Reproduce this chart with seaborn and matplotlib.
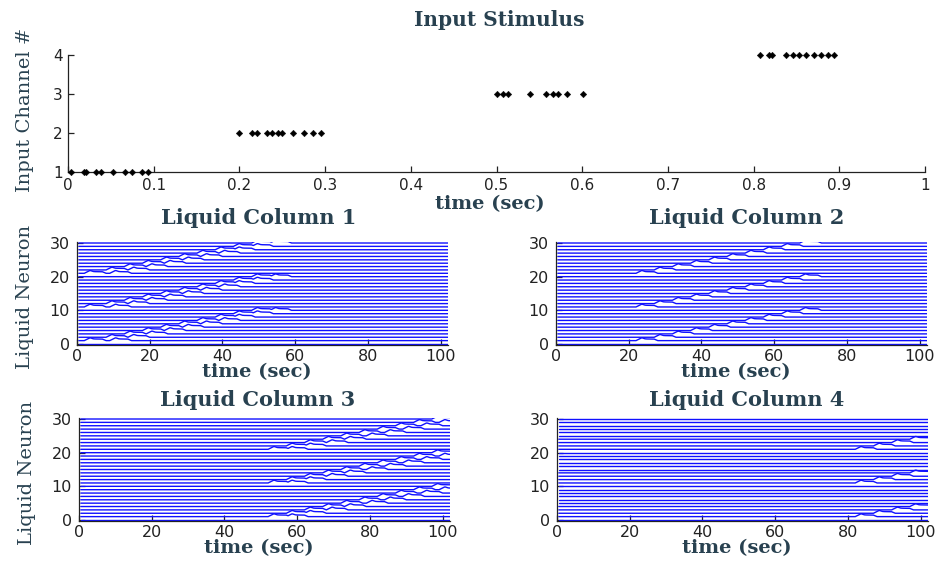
import numpy as np
import pandas as pd
import matplotlib
matplotlib.use("Agg")
import matplotlib.pyplot as plt
import seaborn as sns

# ---- input spike trains (seconds), one list per input channel ----
stim_ch1 = [0.004, 0.019, 0.021, 0.033, 0.039, 0.053, 0.067, 0.075, 0.086, 0.093]
stim_ch2 = [0.200, 0.215, 0.220, 0.232, 0.238, 0.245, 0.250, 0.262, 0.275, 0.286, 0.295]
stim_ch3 = [0.500, 0.508, 0.514, 0.539, 0.558, 0.566, 0.572, 0.582, 0.601]
stim_ch4 = [0.807, 0.818, 0.822, 0.838, 0.846, 0.853, 0.861, 0.871, 0.879, 0.887, 0.894]
stim_channels = [1, 2, 3, 4]
stim_xticks = [0, 0.1, 0.2, 0.3, 0.4, 0.5, 0.6, 0.7, 0.8, 0.9, 1]
stim_xticklabels = ["0", "0.1", "0.2", "0.3", "0.4", "0.5", "0.6", "0.7", "0.8", "0.9", "1"]

# ---- liquid columns: response onset times (sec) of neurons 1..10 in each block of ten ----
col1_first = [2, 8, 13, 18, 23, 28, 33, 38, 43, 48]
col1_second = [9, 14, 19, 24, 29, 34, 39, 43, 48, 53]
col2_first = [22, 27, 32, 37, 42, 47, 52, 57, 62, 67]
col2_second = []
col3_first = [52, 57, 62, 67, 72, 77, 82, 87, 92, 97]
col3_second = [57, 62, 68, 73, 79, 84, 89, 94, 99]
col4_first = [82, 87, 92, 97]
col4_second = []

# membrane response to one input burst: time after onset (sec) and deflection
response_dt = [0.0, 1.0, 1.6, 2.6, 5.0, 6.0]
response_dv = [0.0, 0.55, 0.85, 0.50, 0.45, 0.0]

n_neurons = 31
block_offsets = [1, 11, 21]
liquid_yticks = [0, 10, 20, 30]
liquid_xticks = [0, 20, 40, 60, 80, 100]

label_color = "#284150"
title_font = dict(family="DejaVu Serif", weight="bold", color=label_color)
ylabel_font = dict(family="DejaVu Serif", weight="normal", color=label_color)

sns.set_style("ticks")
plt.rcParams.update({
    "font.family": ["DejaVu Sans"],
    "xtick.direction": "in",
    "ytick.direction": "in",
    "xtick.major.size": 4,
    "ytick.major.size": 4,
    "xtick.major.width": 0.9,
    "ytick.major.width": 0.9,
    "axes.edgecolor": "#222222",
    "axes.linewidth": 0.9,
    "xtick.color": "#222222",
    "ytick.color": "#222222",
})

fig = plt.figure(figsize=(9.38, 5.61), dpi=100)
W, H = 938.0, 561.0


def px_axes(left, top, right, bottom):
    return fig.add_axes([left / W, 1 - bottom / H, (right - left) / W, (bottom - top) / H])


# ---------------- input stimulus raster ----------------
ax0 = px_axes(68, 55, 925, 172)
stim = pd.DataFrame({
    "time": stim_ch1 + stim_ch2 + stim_ch3 + stim_ch4,
    "channel": [1] * len(stim_ch1) + [2] * len(stim_ch2) + [3] * len(stim_ch3) + [4] * len(stim_ch4),
})
sns.scatterplot(data=stim, x="time", y="channel", marker="D", s=11, color="black",
                edgecolor="black", linewidth=0.3, ax=ax0, legend=False, clip_on=False, zorder=3)
ax0.set_xlim(0, 1)
ax0.set_ylim(1, 4)
ax0.set_xticks(stim_xticks)
ax0.set_xticklabels(stim_xticklabels)
ax0.set_yticks(stim_channels)
ax0.tick_params(labelsize=11, pad=4)
sns.despine(ax=ax0)
ax0.set_xlabel("time (sec)", fontsize=14, **title_font)
ax0.xaxis.set_label_coords(0.492, -0.27)
ax0.xaxis.label.set_va("center")
ax0.set_ylabel("Input Channel #", fontsize=14, **ylabel_font)
ax0.yaxis.set_label_coords(-0.050, 0.53)
ax0.yaxis.label.set_va("center")
ax0.text(0.503, 1.30, "Input Stimulus", transform=ax0.transAxes, ha="center", va="center",
         fontsize=14.5, **title_font)

# ---------------- liquid columns ----------------
t_max = 102.0
t_grid = np.arange(0.5, t_max + 1e-9, 0.25)


def liquid_traces(first, second):
    rows = []
    onsets = {}
    for base in block_offsets:
        for j, t0 in enumerate(first):
            onsets.setdefault(base + j, []).append(t0)
        for j, t0 in enumerate(second):
            onsets.setdefault(base + j, []).append(t0)
    for n in range(n_neurons):
        dv = np.zeros_like(t_grid)
        for t0 in onsets.get(n, []):
            dv = np.maximum(dv, np.interp(t_grid - t0, response_dt, response_dv, left=0.0, right=0.0))
        rows.append(pd.DataFrame({"time": t_grid, "potential": n + dv, "neuron": n}))
    return pd.concat(rows, ignore_index=True)


columns = [
    ("Liquid Column 1", col1_first, col1_second, (77, 242, 448, 345), 0.490, 1.233, True),
    ("Liquid Column 2", col2_first, col2_second, (556, 242, 927, 345), 0.515, 1.233, False),
    ("Liquid Column 3", col3_first, col3_second, (79, 418, 450, 521), 0.482, 1.175, True),
    ("Liquid Column 4", col4_first, col4_second, (557, 418, 928, 521), 0.511, 1.175, False),
]

for title, first, second, box, tx, ty, left_col in columns:
    ax = px_axes(*box)
    df = liquid_traces(first, second)
    sns.lineplot(data=df, x="time", y="potential", units="neuron", estimator=None,
                 color="#1010ff", linewidth=1.0, sort=False, ax=ax, legend=False)
    ax.set_xlim(0, t_max)
    ax.set_ylim(-0.3, 30.3)
    ax.set_xticks(liquid_xticks)
    ax.set_yticks(liquid_yticks)
    ax.tick_params(labelsize=11.5, pad=3)
    ax.tick_params(axis="y", pad=5)
    sns.despine(ax=ax)
    ax.set_xlabel("time (sec)", fontsize=14, **title_font)
    ax.xaxis.set_label_coords(0.484, -0.26)
    ax.xaxis.label.set_va("center")
    if left_col:
        ax.set_ylabel("Liquid Neuron", fontsize=14, **ylabel_font)
        ax.yaxis.set_label_coords(-0.141, 0.466)
        ax.yaxis.label.set_va("center")
    else:
        ax.set_ylabel("")
    ax.text(tx, ty, title, transform=ax.transAxes, ha="center", va="center",
            fontsize=15, **title_font)

fig.savefig("out.png", dpi=100)
